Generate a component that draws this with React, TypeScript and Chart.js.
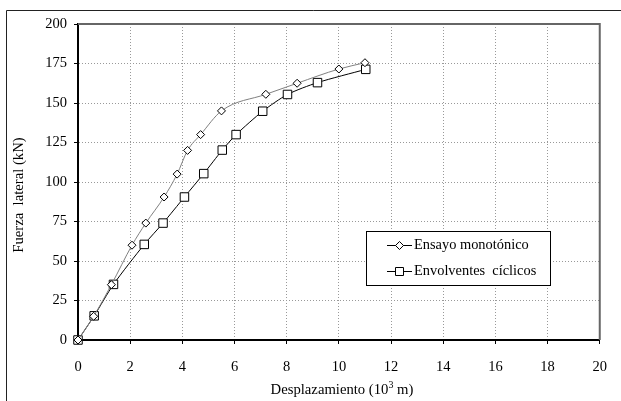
import React, { useEffect, useRef } from "react";
import { Chart, registerables } from "chart.js";

Chart.register(...registerables);

const monoX = [0, 0.6, 1.28, 2.07, 2.6, 3.3, 3.8, 4.2, 4.7, 5.5, 7.2, 8.4, 10.0, 11.0];
const monoY = [0, 15, 35, 60, 74, 90.5, 105, 120, 130, 145, 155.5, 162.5, 171.5, 175.5];
const cycX = [0, 0.62, 1.36, 2.54, 3.26, 4.08, 4.82, 5.53, 6.06, 7.08, 8.03, 9.18, 11.03];
const cycY = [0, 15.3, 35.2, 60.5, 74, 90.5, 105.3, 120.2, 130, 144.8, 155.4, 162.9, 171.3];

const xTicksMin = 0;
const xTicksMax = 20;
const xStep = 2;
const yTicksMin = 0;
const yTicksMax = 200;
const yStep = 25;

const seriesNames = ["Ensayo monotónico", "Envolventes  cíclicos"];
const xTitleMain = "Desplazamiento (10";
const xTitleSup = "3";
const xTitleEnd = " m)";
const yTitle = "Fuerza  lateral (kN)";

const FONT = '"Liberation Serif", "Times New Roman", serif';

export default function App() {
  const ref = useRef<HTMLCanvasElement | null>(null);

  useEffect(() => {
    document.body.style.margin = "0";
    const canvas = ref.current;
    if (!canvas) return;

    const overlay = {
      id: "overlay",
      beforeDraw(chart: any) {
        const ctx = chart.ctx;
        ctx.save();
        ctx.fillStyle = "#fff";
        ctx.fillRect(0, 0, chart.width, chart.height);
        ctx.strokeStyle = "#222";
        ctx.lineWidth = 1;
        ctx.beginPath();
        ctx.moveTo(6.5, chart.height);
        ctx.lineTo(6.5, 10.5);
        ctx.lineTo(chart.width, 10.5);
        ctx.stroke();
        ctx.restore();
      },
      beforeDatasetsDraw(chart: any) {
        const ctx = chart.ctx;
        const a = chart.chartArea;
        ctx.save();
        ctx.strokeStyle = "#666";
        ctx.lineWidth = 2;
        ctx.beginPath();
        ctx.moveTo(a.left, a.top);
        ctx.lineTo(a.right, a.top);
        ctx.lineTo(a.right, a.bottom);
        ctx.stroke();
        ctx.restore();
      },
      afterDraw(chart: any) {
        const ctx = chart.ctx;
        ctx.save();
        ctx.fillStyle = "#000";
        // x title with superscript
        ctx.font = `14.7px ${FONT}`;
        const w1 = ctx.measureText(xTitleMain).width;
        const w3 = ctx.measureText(xTitleEnd).width;
        ctx.font = `10px ${FONT}`;
        const w2 = ctx.measureText(xTitleSup).width;
        const total = w1 + w2 + w3;
        let x0 = 342 - total / 2;
        const by = 394;
        ctx.textBaseline = "alphabetic";
        ctx.textAlign = "left";
        ctx.font = `14.7px ${FONT}`;
        ctx.fillText(xTitleMain, x0, by);
        ctx.font = `10px ${FONT}`;
        ctx.fillText(xTitleSup, x0 + w1, by - 6);
        ctx.font = `14.7px ${FONT}`;
        ctx.fillText(xTitleEnd, x0 + w1 + w2, by);
        // y title
        ctx.save();
        ctx.translate(23, 195);
        ctx.rotate(-Math.PI / 2);
        ctx.textAlign = "center";
        ctx.fillText(yTitle, 0, 0);
        ctx.restore();
        // legend
        const lx = 366.5, ly = 231.5, lw = 184, lh = 54;
        ctx.fillStyle = "#fff";
        ctx.fillRect(lx, ly, lw, lh);
        ctx.strokeStyle = "#000";
        ctx.lineWidth = 1;
        ctx.strokeRect(lx, ly, lw, lh);
        const rows = [245, 271];
        rows.forEach((ry, i) => {
          ctx.strokeStyle = "#000";
          ctx.lineWidth = 1;
          ctx.beginPath();
          ctx.moveTo(387, ry + 0.5);
          ctx.lineTo(412, ry + 0.5);
          ctx.stroke();
          ctx.fillStyle = "#fff";
          ctx.beginPath();
          const cx = 399.5, cy = ry + 0.5;
          if (i === 0) {
            ctx.moveTo(cx, cy - 4);
            ctx.lineTo(cx + 4, cy);
            ctx.lineTo(cx, cy + 4);
            ctx.lineTo(cx - 4, cy);
            ctx.closePath();
          } else {
            ctx.rect(cx - 4, cy - 4, 8, 8);
          }
          ctx.fill();
          ctx.stroke();
          ctx.fillStyle = "#000";
          ctx.font = `14.4px ${FONT}`;
          ctx.textBaseline = "middle";
          ctx.textAlign = "left";
          ctx.fillText(seriesNames[i], 414, ry + 0.5);
        });
        ctx.restore();
      },
    };

    const chart = new Chart(canvas, {
      type: "line",
      data: {
        datasets: [
          {
            label: seriesNames[0],
            data: monoX.map((x, i) => ({ x, y: monoY[i] })),
            borderColor: "#808080",
            borderWidth: 1,
            pointStyle: "rectRot",
            pointRadius: 4,
            pointBackgroundColor: "#fff",
            pointBorderColor: "#000",
            pointBorderWidth: 1,
            cubicInterpolationMode: "monotone",
            fill: false,
            clip: false,
          },
          {
            label: seriesNames[1],
            data: cycX.map((x, i) => ({ x, y: cycY[i] })),
            borderColor: "#000",
            borderWidth: 1,
            pointStyle: "rect",
            pointRadius: 6,
            pointBackgroundColor: "#fff",
            pointBorderColor: "#000",
            pointBorderWidth: 1,
            tension: 0.25,
            fill: false,
            clip: false,
          },
        ],
      },
      options: {
        animation: false,
        responsive: false,
        maintainAspectRatio: false,
        layout: { padding: { left: 8, right: 15, top: 24, bottom: 0 } },
        plugins: {
          legend: { display: false },
          tooltip: { enabled: false },
          title: { display: false },
        },
        scales: {
          x: {
            type: "linear",
            min: xTicksMin,
            max: xTicksMax,
            afterFit: (s: any) => {
              s.height = 61;
            },
            ticks: {
              stepSize: xStep,
              color: "#000",
              font: { family: FONT, size: 14.5 },
              padding: 14,
              maxRotation: 0,
            },
            grid: {
              color: "#999",
              lineWidth: 1,
              tickColor: "#000",
              tickLength: 4,
              tickBorderDash: [],
            },
            border: { color: "#000", width: 2, dash: [1, 2] },
          },
          y: {
            min: yTicksMin,
            max: yTicksMax,
            afterFit: (s: any) => {
              s.width = 70;
            },
            ticks: {
              stepSize: yStep,
              color: "#000",
              font: { family: FONT, size: 14.5 },
              padding: 7,
            },
            grid: {
              color: "#999",
              lineWidth: 1,
              tickColor: "#000",
              tickLength: 4,
              tickBorderDash: [],
            },
            border: { color: "#000", width: 2, dash: [1, 2] },
          },
        },
      },
      plugins: [overlay],
    } as any);

    return () => chart.destroy();
  }, []);

  return (
    <div style={{ width: 621, height: 401 }}>
      <canvas ref={ref} width={621} height={401} style={{ width: 621, height: 401, display: "block" }} />
    </div>
  );
}
